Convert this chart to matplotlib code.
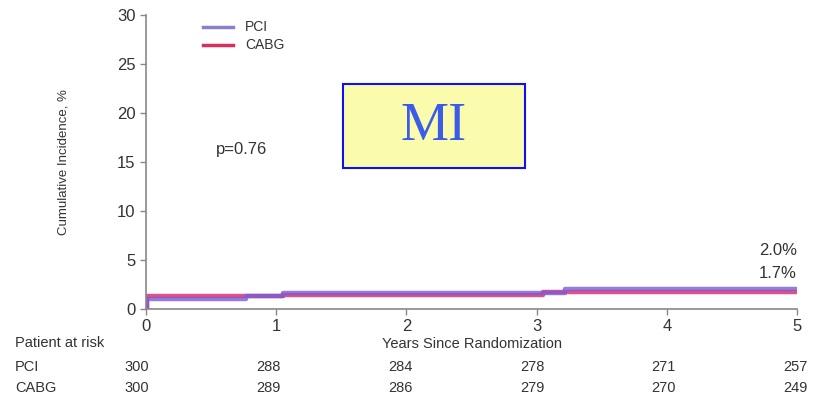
'''
Cumulative incidence of MI, PCI vs CABG, with patients-at-risk table

'''

import matplotlib.pyplot as plt
from matplotlib.patches import Rectangle

# step curves (years, cumulative %)
pci_t = [0, 0.01, 0.77, 1.05, 3.22, 5]
pci_y = [0, 1.0, 1.3, 1.6, 2.0, 2.0]
cabg_t = [0, 0.01, 0.77, 1.05, 3.05, 5]
cabg_y = [0, 1.3, 1.35, 1.45, 1.7, 1.7]

risk_years = [0, 1, 2, 3, 4, 5]
pci_risk = [300, 288, 284, 278, 271, 257]
cabg_risk = [300, 289, 286, 279, 270, 249]

PCI_COLOR = '#7a5cd6'
CABG_COLOR = '#e0306e'
TXT = '#333333'

plt.rcParams['font.family'] = ['Liberation Sans', 'DejaVu Sans']

fig = plt.figure(figsize=(8.27, 4.04), dpi=100)
ax = fig.add_axes([146 / 827, 1 - 309 / 404, (797 - 146) / 827, (309 - 15) / 404])

ax.step(cabg_t, cabg_y, where='post', color=CABG_COLOR, lw=3.2, alpha=0.85)
ax.step(pci_t, pci_y, where='post', color=PCI_COLOR, lw=3.2, alpha=0.8)

ax.set_xlim(0, 5)
ax.set_ylim(0, 30)
ax.set_xticks(risk_years)
ax.set_yticks(range(0, 31, 5))
for s in ['top', 'right']:
    ax.spines[s].set_visible(False)
for s in ['left', 'bottom']:
    ax.spines[s].set_color('#888888')
    ax.spines[s].set_linewidth(1.2)
ax.tick_params(colors='#888888', labelcolor=TXT, labelsize=12, length=4, width=1)
ax.set_ylabel('Cumulative Incidence, %', fontsize=9.5, color=TXT, labelpad=34,
              family=['Liberation Sans Narrow', 'Liberation Sans'])
ax.set_xlabel('Years Since Randomization', fontsize=10.5, color=TXT, labelpad=2)

# legend
ax.plot([0.44, 0.67], [28.8, 28.8], color='#8a80c8', lw=2.5)
ax.plot([0.44, 0.67], [26.9, 26.9], color='#d8305e', lw=2.5)
ax.text(0.76, 28.8, 'PCI', fontsize=10, color=TXT, va='center')
ax.text(0.76, 26.9, 'CABG', fontsize=10, color=TXT, va='center')

ax.text(0.54, 16.3, 'p=0.76', fontsize=12, color=TXT, va='center')
ax.text(5, 6.0, '2.0%', fontsize=12, color=TXT, ha='right', va='center')
ax.text(5, 3.6, '1.7%', fontsize=12, color=TXT, ha='right', va='center')

# title box
fig.patches.append(Rectangle((343 / 827, 1 - 168 / 404), 182 / 827, 84 / 404,
                             transform=fig.transFigure, facecolor='#fbfbae',
                             edgecolor='#1010ee', lw=1.5))
fig.text(434 / 827, 1 - 127 / 404, 'MI', fontsize=39, color='#3a5ce8',
         family='Liberation Serif', ha='center', va='center')

# at-risk table
fig.text(15 / 827, 1 - 343 / 404, 'Patient at risk', fontsize=10.5, color=TXT, va='center')
fig.text(15 / 827, 1 - 367 / 404, 'PCI', fontsize=10.5, color=TXT, va='center')
fig.text(15 / 827, 1 - 388 / 404, 'CABG', fontsize=10.5, color=TXT, va='center')
for t, a, b in zip(risk_years, pci_risk, cabg_risk):
    xf = (146 + t * 130.2) / 827 - 9 / 827 + (1.5 / 827) * t
    fig.text(xf, 1 - 367 / 404, str(a), fontsize=10.5, color=TXT, ha='center', va='center')
    fig.text(xf, 1 - 388 / 404, str(b), fontsize=10.5, color=TXT, ha='center', va='center')

fig.savefig('out.png', dpi=100)
